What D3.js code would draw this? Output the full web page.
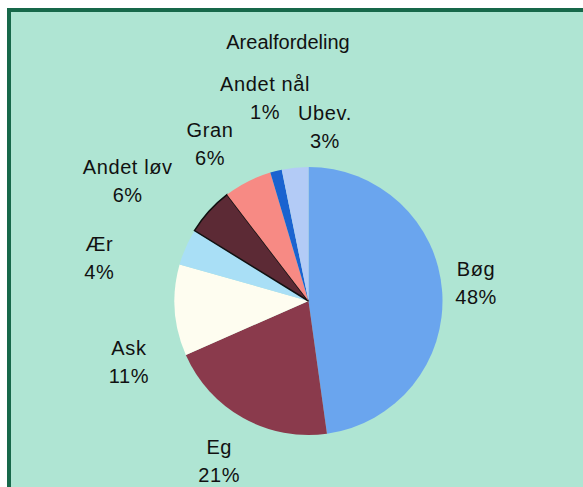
<!DOCTYPE html>
<html>
<head>
<meta charset="utf-8">
<script src="https://cdn.jsdelivr.net/npm/d3@7"></script>
<style>
  html, body { margin: 0; padding: 0; background: #fff; overflow: hidden; }
  svg text { font-family: Arial, "Liberation Sans", sans-serif; fill: #111; }
</style>
</head>
<body>
<svg id="chart" width="583" height="487"></svg>
<script>
// data (clockwise from 12 o'clock)
const categories = ["Bøg", "Eg", "Ask", "Ær", "Andet løv", "Gran", "Andet nål", "Ubev."];
const shares = [47.8, 20.6, 11.0, 4.4, 5.8, 5.8, 1.4, 3.2];
const labels = ["48%", "21%", "11%", "4%", "6%", "6%", "1%", "3%"];

const colors = ["#6aa5ee", "#8a3a4c", "#fefdf0", "#a9dff6", "#5c2a35", "#f78a84", "#1a63d0", "#b3cbf6"];
// small label nudges so they sit like the excel labels did
const nudge = [[-7, -6], [-4, 7], [-5, 49], [-49, 28], [-51, -3], [-19, -1], [-1, -33], [34, 0]];

const svg = d3.select("#chart");
const W = 583, H = 487;
const cx = 308.5, cy = 301, r = 134;

// frame (runs off the right and bottom edge like the scan)
svg.append("rect")
  .attr("x", 9).attr("y", 10)
  .attr("width", W + 10).attr("height", H + 20)
  .attr("fill", "#afe5d3")
  .attr("stroke", "#17684a")
  .attr("stroke-width", 4);

svg.append("text")
  .attr("x", 288).attr("y", 49)
  .attr("text-anchor", "middle")
  .style("font-size", "20px")
  .text("Arealfordeling");

const pie = d3.pie().sort(null).value(d => d.v);
const arcs = pie(categories.map((c, i) => ({ name: c, v: shares[i], lab: labels[i], i: i })));

const arc = d3.arc().innerRadius(0).outerRadius(r);
const labelArc = d3.arc().innerRadius(175).outerRadius(175);

const g = svg.append("g").attr("transform", `translate(${cx},${cy})`);

g.selectAll("path.slice")
  .data(arcs)
  .enter()
  .append("path")
  .attr("class", "slice")
  .attr("d", arc)
  .attr("fill", d => colors[d.data.i])
  .attr("stroke", d => d.data.name == "Andet løv" ? "#111" : "none")
  .attr("stroke-width", 1.5);

const lab = g.selectAll("g.lab")
  .data(arcs)
  .enter()
  .append("g")
  .attr("class", "lab")
  .attr("transform", function (d) {
    const c = labelArc.centroid(d);
    const n = nudge[d.data.i];
    return `translate(${c[0] + n[0]},${c[1] + n[1]})`;
  });

lab.append("text")
  .attr("text-anchor", "middle")
  .attr("y", -7)
  .style("font-size", "20px")
  .style("letter-spacing", "0.6px")
  .text(d => d.data.name);

lab.append("text")
  .attr("text-anchor", "middle")
  .attr("y", 21)
  .style("font-size", "20px")
  .style("letter-spacing", "0.6px")
  .text(d => d.data.lab);
</script>
</body>
</html>
